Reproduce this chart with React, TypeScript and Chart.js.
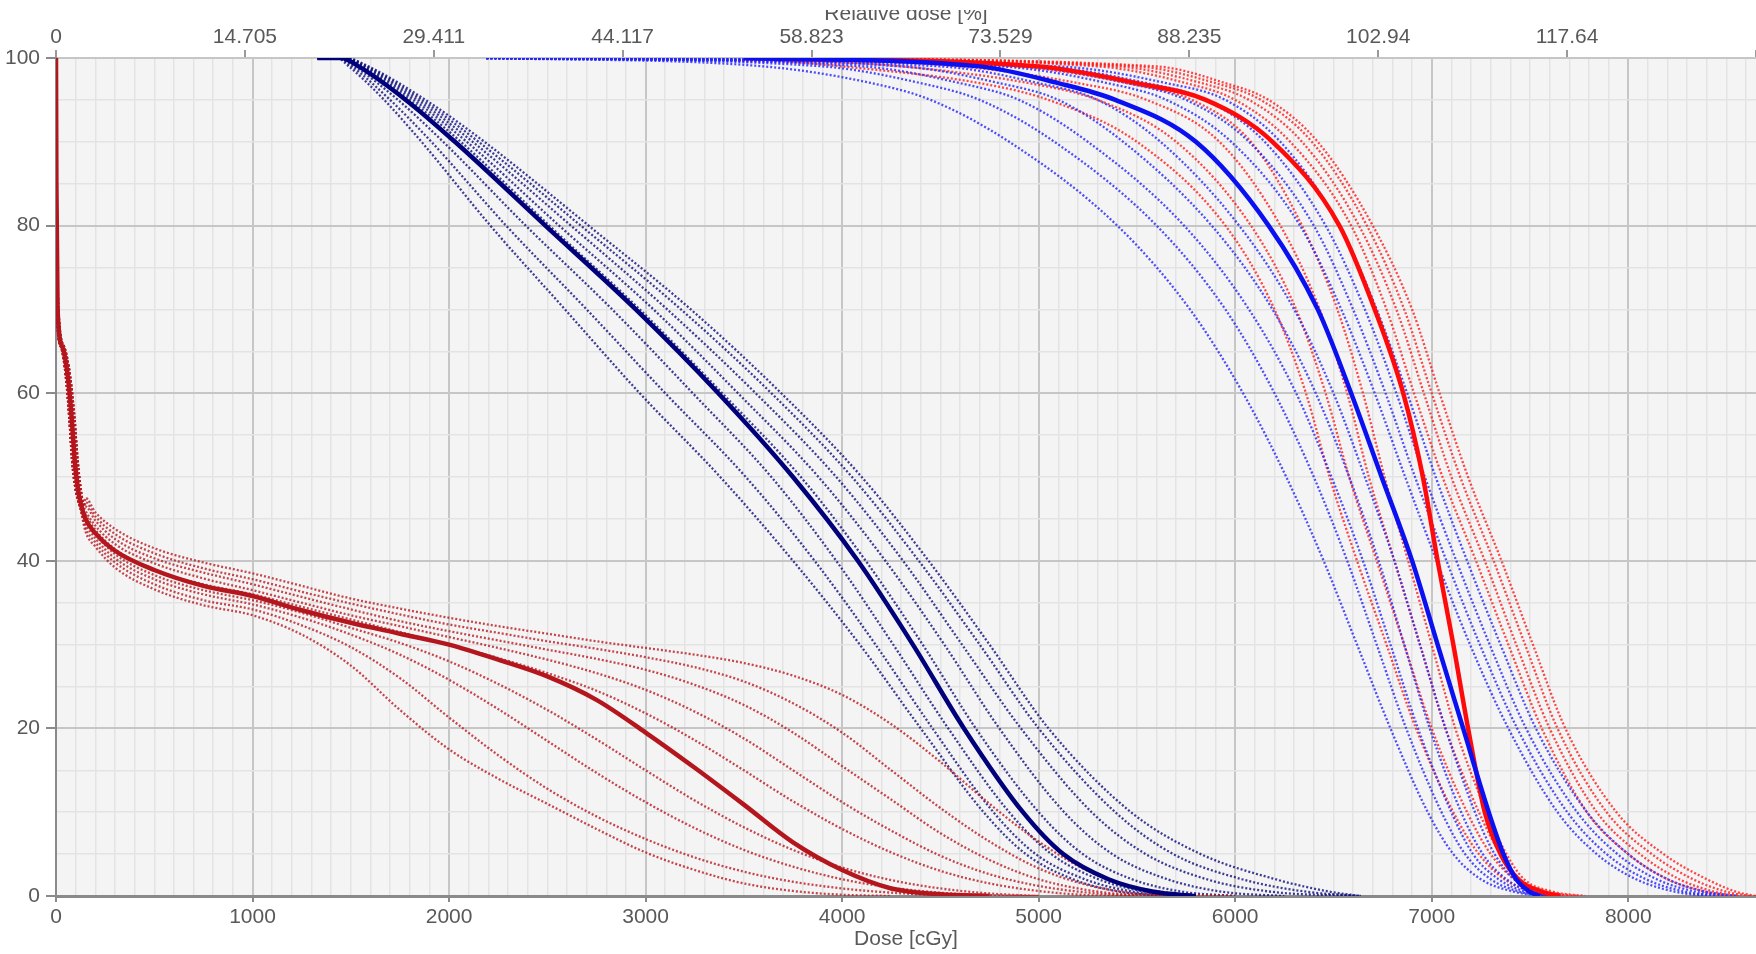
import React, { useEffect, useRef } from "react";
import { Chart, registerables } from "chart.js";

Chart.register(...registerables);

// ---------- axes ----------
const X_MIN = 0;
const X_MAX = 8650;
const Y_MIN = 0;
const Y_MAX = 100;
const TOP_TICK_LABELS = ["0", "14.705", "29.411", "44.117", "58.823", "73.529", "88.235", "102.94", "117.64"];
const BOTTOM_TITLE = "Dose [cGy]";
const TOP_TITLE = "Relative dose [%]";

// ---------- dark red group (dose grid → volume %) ----------
const DR_HEAD_PCT = [100, 85, 70, 65.5, 62, 57, 52, 48.5, 46.5];
const DR_HEAD_DOSE = [0, 2, 8, 33, 60, 80, 95, 112, 130];
const DR_HEAD_DOSE_WIDE = [0, 3, 12, 42, 72, 94, 110, 126, 142];
const DR_HEAD_DOSE_NARROW = [0, 1, 5, 26, 50, 68, 82, 100, 122];
const DR_DOSE = [150, 200, 300, 500, 750, 1000, 1250, 1500, 1750, 2000, 2250, 2500, 2750, 3000, 3250, 3500, 3750, 4000, 4250, 4500, 4750, 5000, 5250, 5500, 5750, 6000];
const DR_MEAN = [45, 43.3, 41.2, 38.9, 37, 35.8, 34.1, 32.6, 31.3, 30.0, 28.2, 26.2, 23.4, 19.5, 15.3, 10.9, 6.4, 3.1, 0.9, 0.2, 0];
const DR_U1 = [47.5, 45.8, 43.8, 41.5, 39.8, 38.5, 37, 35.5, 34.3, 33.2, 32.2, 31.3, 30.4, 29.6, 28.8, 27.8, 26.3, 24, 20.5, 16, 11, 6.5, 3, 1, 0.2, 0];
const DR_U2 = [47, 45.3, 43.2, 40.9, 39.1, 37.8, 36.3, 34.9, 33.6, 32.4, 31.4, 30.4, 29.5, 28.5, 27.3, 25.6, 23, 19.5, 15, 10.5, 6.5, 3.3, 1.3, 0.3, 0];
const DR_U3 = [46.5, 44.8, 42.6, 40.3, 38.6, 37.2, 35.7, 34.2, 32.8, 31.6, 30.5, 29.4, 28.3, 27, 25.2, 22.8, 19.5, 15.5, 11.5, 7.5, 4.3, 2, 0.7, 0.1, 0];
const DR_U4 = [46, 44.2, 42, 39.7, 37.9, 36.5, 35, 33.5, 32.2, 30.9, 29.6, 28.2, 26.6, 24.6, 22, 18.8, 15, 11.2, 7.8, 4.8, 2.6, 1.2, 0.4, 0];
const DR_L5 = [45.5, 43.7, 41.4, 38.9, 37.2, 36, 34.5, 33, 31.5, 30, 28.4, 26.6, 24.5, 21.8, 18.6, 15, 11.3, 8, 5.2, 3, 1.5, 0.6, 0.1, 0];
const DR_L4 = [45, 43.2, 40.8, 38.3, 36.5, 35.3, 33.8, 32, 30.2, 28, 25.3, 22.2, 18.7, 15, 11.4, 8.2, 5.5, 3.4, 1.9, 0.9, 0.3, 0];
const DR_L3 = [44.5, 42.7, 40.3, 37.8, 36, 34.8, 33.2, 31.2, 28.8, 25.8, 22.3, 18.5, 14.7, 11.2, 8.1, 5.5, 3.5, 2, 1, 0.4, 0.1, 0];
const DR_L2 = [44, 42.2, 39.8, 37.2, 35.3, 34.2, 32.3, 29.7, 26, 21.3, 16.8, 12.8, 9.5, 6.8, 4.6, 2.9, 1.7, 0.9, 0.4, 0.1, 0];
const DR_L1 = [43.5, 41.7, 39.2, 36.6, 34.7, 33.5, 31.2, 27.5, 22.2, 17.5, 14, 11, 8, 5.2, 3.1, 1.5, 0.6, 0.15, 0];

// ---------- navy group (dose at each volume level) ----------
const NV_LEVELS = [100, 100, 99, 95, 90, 80, 70, 60, 50, 40, 30, 20, 10, 5, 2, 0.5, 0];
const NV_MEAN = [1330, 1450, 1540, 1780, 2030, 2490, 2950, 3370, 3750, 4080, 4360, 4620, 4920, 5125, 5355, 5585, 5800];
const NV_1 = [1330, 1430, 1490, 1670, 1860, 2210, 2590, 2970, 3380, 3750, 4090, 4400, 4720, 4935, 5175, 5415, 5650];
const NV_2 = [1330, 1435, 1505, 1700, 1910, 2290, 2700, 3100, 3510, 3860, 4170, 4460, 4770, 4985, 5235, 5485, 5720];
const NV_3 = [1330, 1442, 1520, 1740, 1970, 2390, 2830, 3240, 3640, 3970, 4260, 4540, 4850, 5065, 5305, 5545, 5800];
const NV_4 = [1330, 1455, 1550, 1800, 2060, 2510, 2970, 3390, 3790, 4120, 4410, 4680, 5000, 5225, 5475, 5735, 6000];
const NV_5 = [1330, 1460, 1560, 1820, 2090, 2560, 3040, 3470, 3880, 4220, 4520, 4800, 5130, 5375, 5655, 5935, 6250];
const NV_6 = [1330, 1465, 1570, 1840, 2120, 2620, 3110, 3560, 3970, 4310, 4610, 4910, 5270, 5545, 5855, 6185, 6600];
const NV_7 = [1330, 1470, 1580, 1860, 2150, 2670, 3180, 3640, 4050, 4390, 4700, 5000, 5390, 5685, 6035, 6365, 6640];
const NV_8 = [1330, 1475, 1590, 1880, 2180, 2710, 3230, 3690, 4100, 4440, 4750, 5050, 5470, 5825, 6205, 6485, 6640];

// ---------- blue / red groups (dose at each volume level) ----------
const RB_LEVELS = [100, 99, 97, 95, 90, 80, 70, 60, 50, 40, 30, 20, 10, 5, 2, 0.5, 0];
const BL_MEAN = [3500, 4700, 5100, 5390, 5800, 6170, 6420, 6590, 6745, 6900, 7030, 7160, 7290, 7365, 7430, 7500, 7549];
const BL_1 = [2190, 3600, 4150, 4450, 4850, 5400, 5770, 6040, 6260, 6450, 6620, 6790, 6980, 7110, 7250, 7420, 7580];
const BL_2 = [2190, 3900, 4400, 4700, 5080, 5600, 5950, 6200, 6400, 6570, 6720, 6870, 7050, 7170, 7300, 7450, 7600];
const BL_3 = [2190, 4100, 4600, 4900, 5250, 5740, 6070, 6310, 6490, 6650, 6790, 6930, 7100, 7210, 7340, 7480, 7620];
const BL_4 = [2190, 4300, 4800, 5100, 5430, 5880, 6190, 6410, 6580, 6730, 6860, 6990, 7150, 7260, 7380, 7510, 7640];
const BL_5 = [2190, 4500, 5000, 5300, 5620, 6020, 6300, 6500, 6660, 6810, 6940, 7070, 7220, 7320, 7420, 7530, 7660];
const BL_6 = [2190, 4800, 5350, 5650, 5980, 6330, 6540, 6710, 6865, 7025, 7195, 7390, 7640, 7840, 8040, 8240, 8400];
const BL_7 = [2190, 4900, 5450, 5750, 6070, 6400, 6600, 6765, 6915, 7075, 7245, 7435, 7690, 7890, 8090, 8290, 8450];
const BL_8 = [2190, 5000, 5550, 5850, 6150, 6460, 6660, 6820, 6965, 7125, 7295, 7480, 7740, 7945, 8145, 8345, 8500];
const BL_9 = [2190, 5100, 5650, 5950, 6230, 6530, 6720, 6875, 7020, 7180, 7350, 7530, 7790, 8000, 8200, 8400, 8560];

const RD_MEAN = [3500, 5000, 5500, 5850, 6190, 6530, 6710, 6855, 6955, 7030, 7110, 7185, 7270, 7350, 7440, 7560, 7655];
const RD_1 = [3500, 4000, 4700, 5050, 5500, 5950, 6200, 6360, 6480, 6620, 6770, 6920, 7110, 7240, 7370, 7510, 7650];
const RD_2 = [3500, 4300, 4950, 5300, 5700, 6080, 6310, 6460, 6580, 6720, 6860, 7000, 7180, 7300, 7420, 7550, 7700];
const RD_3 = [3500, 4600, 5200, 5550, 5920, 6230, 6430, 6570, 6680, 6810, 6940, 7070, 7240, 7350, 7450, 7590, 7750];
const RD_4 = [3500, 4900, 5450, 5780, 6080, 6340, 6520, 6650, 6760, 6880, 7000, 7120, 7280, 7380, 7470, 7620, 7780];
const RD_5 = [3500, 5300, 5750, 6000, 6280, 6590, 6770, 6910, 7055, 7225, 7390, 7560, 7790, 8000, 8200, 8390, 8500];
const RD_6 = [3500, 5400, 5830, 6070, 6340, 6630, 6820, 6960, 7100, 7270, 7430, 7600, 7840, 8060, 8260, 8440, 8560];
const RD_7 = [3500, 5500, 5900, 6130, 6390, 6670, 6860, 7000, 7145, 7315, 7475, 7640, 7890, 8120, 8330, 8500, 8620];
const RD_8 = [3500, 5600, 5950, 6170, 6420, 6700, 6900, 7040, 7185, 7355, 7515, 7680, 7940, 8180, 8400, 8550, 8650];

// ---------- styles ----------
const FONT_FAMILY = "'Liberation Sans', Arial, sans-serif";
const TEXT_COLOR = "#595959";
const PLOT_BG = "#f4f4f4";
const GRID_MAJOR = "#c6c6c6";
const GRID_MINOR = "#e3e3e3";
const AXIS_COLOR = "#8a8a8a";

type Pt = { x: number; y: number };

function zip(xs: number[], ys: number[]): Pt[] {
  const out: Pt[] = [];
  const n = Math.min(xs.length, ys.length);
  for (let i = 0; i < n; i++) {
    out.push({ x: xs[i], y: ys[i] });
    if (ys[i] === 0) break;
  }
  return out;
}

function darkRed(curve: number[], head: number[]): Pt[] {
  return zip(head.concat(DR_DOSE), DR_HEAD_PCT.concat(curve));
}

function line(data: Pt[], color: string, thick: boolean) {
  return {
    data,
    borderColor: color,
    backgroundColor: color,
    borderWidth: thick ? 4.5 : 2.3,
    borderDash: thick ? [] : [2, 2],
    borderCapStyle: "butt",
    pointRadius: 0,
    pointHoverRadius: 0,
    fill: false,
    cubicInterpolationMode: "monotone",
    order: thick ? 0 : 1,
    xAxisID: "x",
    yAxisID: "y",
  };
}

const plotBg = {
  id: "plotBg",
  beforeDraw(chart: any) {
    const { ctx, chartArea } = chart;
    if (!chartArea) return;
    ctx.save();
    ctx.fillStyle = PLOT_BG;
    ctx.fillRect(chartArea.left, chartArea.top, chartArea.right - chartArea.left, chartArea.bottom - chartArea.top);
    ctx.restore();
  },
};

export default function App() {
  const ref = useRef<HTMLCanvasElement | null>(null);

  useEffect(() => {
    document.body.style.overflow = "hidden";
    const canvas = ref.current;
    if (!canvas) return;

    const DR_DOT = "rgba(185,25,32,0.8)";
    const NV_DOT = "rgba(12,12,125,0.8)";
    const BL_DOT = "rgba(35,35,250,0.8)";
    const RD_DOT = "rgba(255,25,25,0.8)";

    const datasets: any[] = [
      ...[DR_U1, DR_U2, DR_U3, DR_U4].map((c) => line(darkRed(c, DR_HEAD_DOSE_WIDE), DR_DOT, false)),
      ...[DR_L5, DR_L4, DR_L3, DR_L2, DR_L1].map((c) => line(darkRed(c, DR_HEAD_DOSE_NARROW), DR_DOT, false)),
      ...[NV_1, NV_2, NV_3, NV_4, NV_5, NV_6, NV_7, NV_8].map((c) => line(zip(c, NV_LEVELS), NV_DOT, false)),
      ...[BL_1, BL_2, BL_3, BL_4, BL_5, BL_6, BL_7, BL_8, BL_9].map((c) => line(zip(c, RB_LEVELS), BL_DOT, false)),
      ...[RD_1, RD_2, RD_3, RD_4, RD_5, RD_6, RD_7, RD_8].map((c) => line(zip(c, RB_LEVELS), RD_DOT, false)),
      line(darkRed(DR_MEAN, DR_HEAD_DOSE), "#b3161d", true),
      line(zip(NV_MEAN, NV_LEVELS), "#00007a", true),
      line(zip(BL_MEAN, RB_LEVELS), "#0a10f0", true),
      line(zip(RD_MEAN, RB_LEVELS), "#ff0a0a", true),
    ];

    const font = { family: FONT_FAMILY, size: 21 };
    const isMajorX = (ctx: any) => ctx.tick && ctx.tick.value % 1000 === 0;
    const isMajorY = (ctx: any) => ctx.tick && ctx.tick.value % 20 === 0;

    const chart = new Chart(canvas, {
      type: "line",
      data: { datasets },
      plugins: [plotBg],
      options: {
        responsive: false,
        animation: false,
        devicePixelRatio: 1,
        parsing: false as any,
        normalized: true,
        layout: { padding: 0 },
        events: [],
        plugins: {
          legend: { display: false },
          tooltip: { enabled: false },
          title: { display: false },
        },
        scales: {
          x: {
            type: "linear",
            position: "bottom",
            min: X_MIN,
            max: X_MAX,
            ticks: {
              stepSize: 100,
              autoSkip: false,
              includeBounds: false,
              maxRotation: 0,
              padding: 3,
              color: TEXT_COLOR,
              font,
              callback: (v: any) => (Number(v) % 1000 === 0 ? String(v) : ""),
            },
            grid: {
              color: (ctx: any) => (isMajorX(ctx) ? GRID_MAJOR : GRID_MINOR),
              lineWidth: (ctx: any) => (isMajorX(ctx) ? 2 : 1.5),
              tickColor: (ctx: any) => (isMajorX(ctx) ? AXIS_COLOR : "rgba(0,0,0,0)"),
              tickLength: 6,
            },
            border: { display: true, color: AXIS_COLOR, width: 3 },
            title: {
              display: true,
              text: BOTTOM_TITLE,
              color: TEXT_COLOR,
              font,
              padding: { top: 0, bottom: 2 },
            },
            afterFit: (s: any) => {
              s.height = 58;
            },
          } as any,
          x2: {
            type: "linear",
            position: "top",
            min: X_MIN,
            max: X_MAX,
            ticks: {
              stepSize: 1000,
              autoSkip: false,
              includeBounds: false,
              maxRotation: 0,
              padding: 0,
              color: TEXT_COLOR,
              font,
              callback: (_v: any, i: number) => (TOP_TICK_LABELS[i] !== undefined ? TOP_TICK_LABELS[i] : ""),
            },
            grid: {
              drawOnChartArea: false,
              color: AXIS_COLOR,
              tickColor: "#9a9a9a",
              tickLength: 8,
              lineWidth: 2,
            },
            border: { display: false },
            title: {
              display: true,
              text: TOP_TITLE,
              color: TEXT_COLOR,
              font,
              padding: { top: -8, bottom: 0 },
            },
            afterFit: (s: any) => {
              s.height = 48;
            },
          } as any,
          y: {
            type: "linear",
            position: "left",
            min: Y_MIN,
            max: Y_MAX,
            ticks: {
              stepSize: 5,
              autoSkip: false,
              padding: 6,
              color: TEXT_COLOR,
              font,
              callback: (v: any) => (Number(v) % 20 === 0 ? String(v) : ""),
            },
            grid: {
              color: (ctx: any) => (isMajorY(ctx) ? GRID_MAJOR : GRID_MINOR),
              lineWidth: (ctx: any) => (isMajorY(ctx) ? 2 : 1.5),
              tickColor: (ctx: any) => (isMajorY(ctx) ? AXIS_COLOR : "rgba(0,0,0,0)"),
              tickLength: 10,
            },
            border: { display: true, color: AXIS_COLOR, width: 2 },
            afterFit: (s: any) => {
              s.width = 56;
            },
          } as any,
        },
      },
    });

    return () => {
      chart.destroy();
    };
  }, []);

  return (
    <div style={{ position: "absolute", left: 0, top: 10, width: 1756, height: 944, background: "#fff" }}>
      <canvas ref={ref} width={1756} height={944} style={{ display: "block", width: 1756, height: 944 }} />
    </div>
  );
}
